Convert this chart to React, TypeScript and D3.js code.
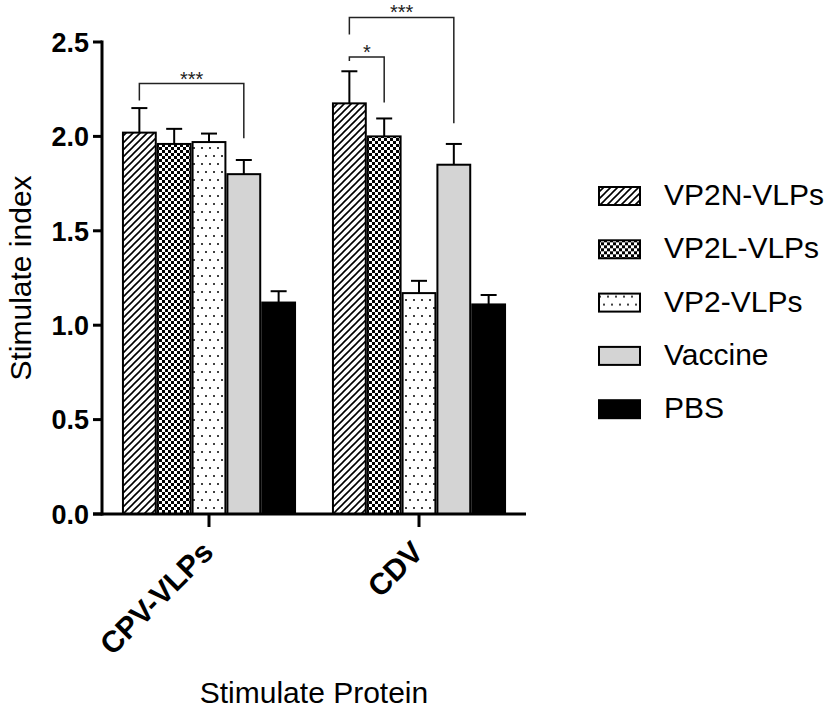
import React from 'react';
import * as d3 from 'd3';

const categories = ['CPV-VLPs', 'CDV'];
const series = ['VP2N-VLPs', 'VP2L-VLPs', 'VP2-VLPs', 'Vaccine', 'PBS'];
const cpvMeans = [2.02, 1.96, 1.97, 1.8, 1.12];
const cpvErrors = [0.13, 0.08, 0.045, 0.075, 0.06];
const cdvMeans = [2.175, 2.0, 1.17, 1.85, 1.11];
const cdvErrors = [0.17, 0.095, 0.065, 0.11, 0.05];
const yTicks = [0, 0.5, 1, 1.5, 2, 2.5];

// significance brackets (values in y units)
const brackets = [
  { cat: 'CPV-VLPs', from: 'VP2N-VLPs', to: 'Vaccine', top: 2.28, leftEnd: 2.19, rightEnd: 1.99, label: '***' },
  { cat: 'CDV', from: 'VP2N-VLPs', to: 'VP2L-VLPs', top: 2.42, leftEnd: 2.4, rightEnd: 2.18, label: '*' },
  { cat: 'CDV', from: 'VP2N-VLPs', to: 'Vaccine', top: 2.63, leftEnd: 2.54, rightEnd: 2.07, label: '***' },
];

const means: Record<string, number[]> = { 'CPV-VLPs': cpvMeans, CDV: cdvMeans };
const errors: Record<string, number[]> = { 'CPV-VLPs': cpvErrors, CDV: cdvErrors };

const fills = ['url(#hatch)', 'url(#checker)', 'url(#dots)', '#d4d4d4', '#000'];
const font = '"Liberation Sans", Arial, sans-serif';

export default function App() {
  const width = 839;
  const height = 712;
  const left = 102;
  const right = 526;
  const top = 42;
  const bottom = 514;

  const x = d3.scaleBand().domain(categories).range([left, right]).paddingInner(0.171).paddingOuter(0.095);
  const xs = d3.scaleBand().domain(series).range([0, x.bandwidth()]);
  const y = d3.scaleLinear().domain([0, 2.5]).range([bottom, top]);

  const barX = (cat: string, s: string) => (x(cat) as number) + (xs(s) as number);
  const barMid = (cat: string, s: string) => barX(cat, s) + xs.bandwidth() / 2;

  return (
    <svg width={width} height={height} style={{ position: 'absolute', left: 0, top: 0 }} fontFamily={font}>
      <defs>
        <pattern id="hatch" patternUnits="userSpaceOnUse" width="7" height="7">
          <rect width="7" height="7" fill="#fff" />
          <path d="M-1,1 l2,-2 M0,7 l7,-7 M6,8 l2,-2" stroke="#000" strokeWidth="1.6" />
        </pattern>
        <pattern id="checker" patternUnits="userSpaceOnUse" width="6" height="6">
          <rect width="6" height="6" fill="#fff" />
          <rect width="3" height="3" fill="#000" />
          <rect x="3" y="3" width="3" height="3" fill="#000" />
        </pattern>
        <pattern id="dots" patternUnits="userSpaceOnUse" width="8" height="16">
          <rect width="8" height="16" fill="#fff" />
          <circle cx="2" cy="4" r="1" fill="#000" />
          <circle cx="6" cy="12" r="1" fill="#000" />
        </pattern>
      </defs>

      {/* bars */}
      {categories.map((cat) =>
        series.map((s, i) => {
          const v = means[cat][i];
          const e = errors[cat][i];
          const bx = barX(cat, s);
          const mid = barMid(cat, s);
          return (
            <g key={cat + s}>
              <line x1={mid} x2={mid} y1={y(v)} y2={y(v + e)} stroke="#000" strokeWidth={2} />
              <line x1={mid - 8} x2={mid + 8} y1={y(v + e)} y2={y(v + e)} stroke="#000" strokeWidth={2} />
              <rect x={bx + 1} y={y(v)} width={xs.bandwidth() - 2} height={bottom - y(v)} fill={fills[i]} stroke="#000" strokeWidth={2} />
            </g>
          );
        })
      )}

      {/* brackets */}
      {brackets.map((b, i) => {
        const x1 = barMid(b.cat, b.from);
        const x2 = barMid(b.cat, b.to);
        return (
          <g key={i}>
            <path
              d={`M${x1},${y(b.leftEnd)} V${y(b.top)} H${x2} V${y(b.rightEnd)}`}
              fill="none"
              stroke="#222"
              strokeWidth={1.5}
            />
            <text x={(x1 + x2) / 2} y={y(b.top) + 2} textAnchor="middle" fontSize={20} fill="#222">
              {b.label}
            </text>
          </g>
        );
      })}

      {/* y axis */}
      <line x1={left} x2={left} y1={top - 1.5} y2={bottom + 1.5} stroke="#000" strokeWidth={3} />
      {yTicks.map((t) => (
        <g key={t}>
          <line x1={left - 9} x2={left} y1={y(t)} y2={y(t)} stroke="#000" strokeWidth={3} />
          <text x={left - 13} y={y(t)} dy="0.36em" textAnchor="end" fontSize={27} fontWeight="bold">
            {d3.format('.1f')(t)}
          </text>
        </g>
      ))}

      {/* x axis */}
      <line x1={left - 9} x2={right} y1={bottom} y2={bottom} stroke="#000" strokeWidth={3} />
      {categories.map((cat) => {
        const cx = (x(cat) as number) + x.bandwidth() / 2;
        return (
          <g key={cat}>
            <line x1={cx} x2={cx} y1={bottom} y2={bottom + 13} stroke="#000" strokeWidth={3} />
            <text
              transform={`translate(${cx + 6},${bottom + 40}) rotate(-45)`}
              textAnchor="end"
              fontSize={30}
              fontWeight="bold"
            >
              {cat}
            </text>
          </g>
        );
      })}

      {/* axis titles */}
      <text transform={`translate(31,${(top + bottom) / 2}) rotate(-90)`} textAnchor="middle" fontSize={30}>
        Stimulate index
      </text>
      <text x={(left + right) / 2} y={703} textAnchor="middle" fontSize={30}>
        Stimulate Protein
      </text>

      {/* legend */}
      {series.map((s, i) => (
        <g key={s} transform={`translate(598,${186 + i * 53.3})`}>
          <rect x={1} y={1} width={41} height={18} fill={fills[i]} stroke="#000" strokeWidth={2} />
          <text x={66} y={19} fontSize={30}>
            {s}
          </text>
        </g>
      ))}
    </svg>
  );
}
